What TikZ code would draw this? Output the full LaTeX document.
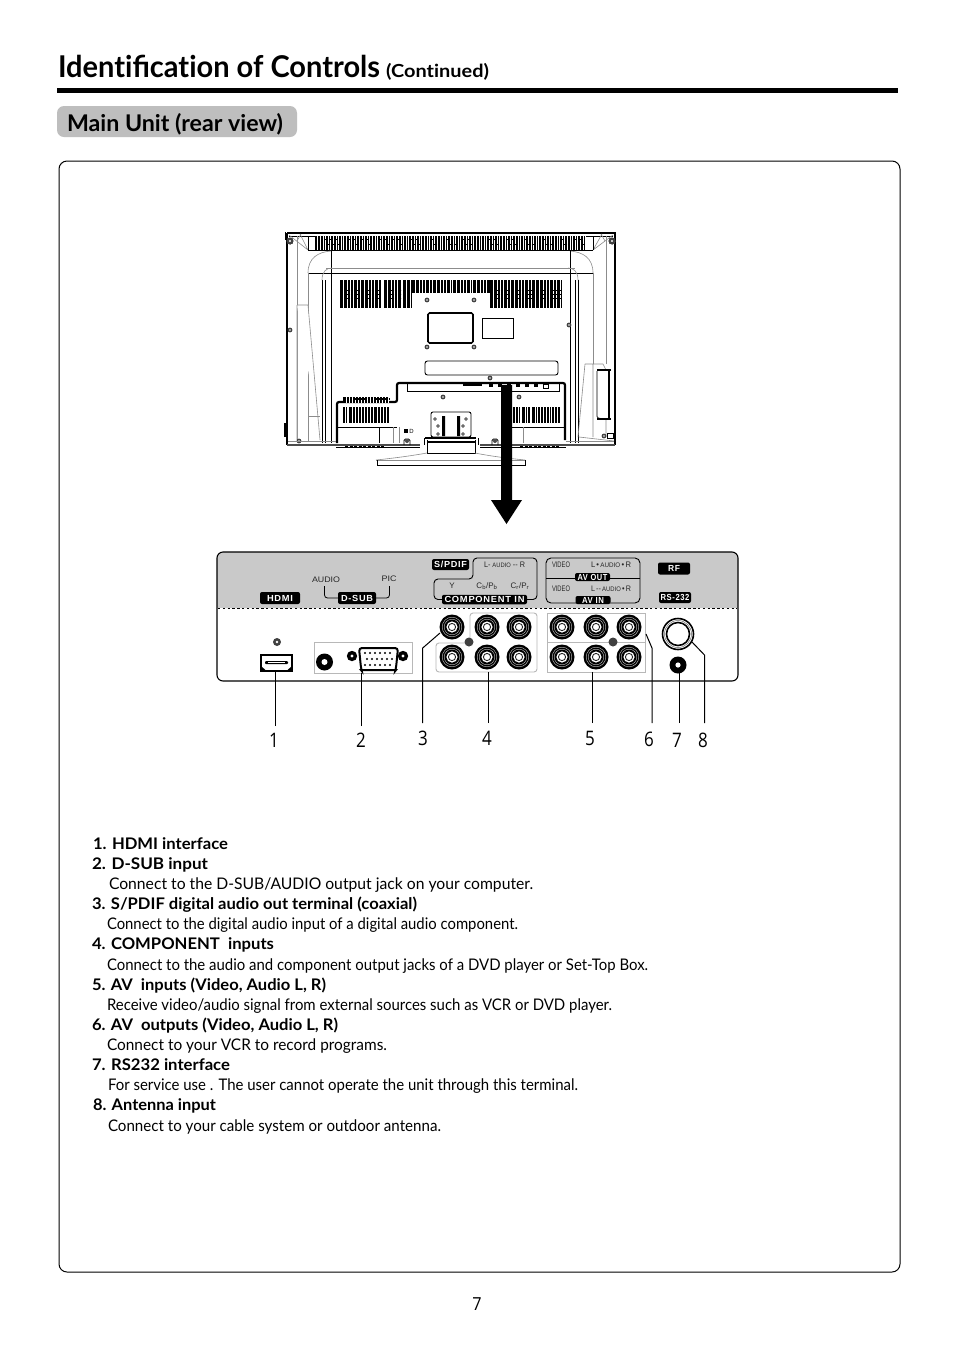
\documentclass[tikz,border=0pt]{standalone}
\usepackage{fontspec}
\usepackage{graphicx}
\setmainfont{Lato}[Ligatures=NoCommon]
\newfontfamily\panelf{Liberation Sans}
\newfontfamily\pillf{Liberation Sans}[LetterSpace=8]
\newfontfamily\numf{Open Sans}
\usetikzlibrary{calc}
\definecolor{panelgray}{HTML}{C9C9C9}
\definecolor{taggray}{HTML}{BEBEBE}
\definecolor{groupgray}{HTML}{B8B8B8}
\newsavebox{\fitbox}
\newcommand{\fitto}[2]{\sbox{\fitbox}{#2}\pgfmathsetmacro{\fitr}{#1/\wd\fitbox}\scalebox{\fitr}[1]{\usebox{\fitbox}}}
\newcommand{\tline}[6]{\node[txt,font=#6] (#1) at (#2,#3) {\fitto{#4}{#5}};}
\newcommand{\jack}[3]{%
  \node[circle,fill=black,minimum size=25,inner sep=0] (#1) at (#2,#3) {};
  \draw[white!75!black,line width=.45] (#2,#3) circle (9.8);
  \draw[white!75!black,line width=.45] (#2,#3) circle (7.8);
  \fill[white] (#2,#3) circle (5.6);
  \draw[black!85,line width=.9] (#2,#3) circle (3.6);}
\newcommand{\screw}[3]{\fill[black!75] (#1,#2) circle (#3); \fill[white] (#1,#2) circle (#3*.35);}
\newcommand{\vent}[5]{% x1 y1 x2 y2 step
  \fill[black] (#1,#2) rectangle (#3,#4);
  \pgfmathsetmacro{\vnext}{#1+#5}
  \pgfmathsetmacro{\vsec}{#1+2*#5}
  \foreach \vx in {\vnext,\vsec,...,#3} \draw[white,line width=.55] (\vx,#2) -- (\vx,#4);}
\newcommand{\ladder}[4]{% x1 x2 ymid count-step : short black bridges across the white lines
  \foreach \ly in {-4,0,4} \draw[black,line width=1,dash pattern=on 2 off 1.2] (#1,#3+\ly) -- (#2,#3+\ly);}
\tikzset{
  txt/.style={anchor=base west,inner sep=0,outer sep=0},
  pill/.style={fill=black,rounded corners=2,text=white,font=\fontsize{8.8}{9}\pillf\bfseries,inner sep=0,align=center},
  plab/.style={inner sep=0,text=black!85,font=\fontsize{8}{8}\panelf},
  num/.style={inner sep=0,font=\fontsize{20}{22}\numf},
  leader/.style={draw=black,line width=1},
  tv/.style={draw=black,line width=.9},
  tvthin/.style={draw=black!45,line width=.6},
  thick tv/.style={draw=black,line width=2.2,rounded corners=2},
}
\begin{document}
\begin{tikzpicture}[x=1pt,y=-1pt]
\useasboundingbox (0,0) rectangle (954,1350);
\fill[white] (0,0) rectangle (954,1350);
% header
\tline{title}{58}{77}{322}{\bfseries Identi{\addfontfeature{Ligatures=Common}fi}cation of Controls}{\fontsize{30}{32}\selectfont}
\tline{cont}{386}{77}{103}{\bfseries (Continued)}{\fontsize{18}{20}\selectfont}
\fill[black] (57,88) rectangle (898,93);
\draw[fill=taggray,draw=none,rounded corners=7] (57,106) rectangle (297,137);
\tline{tag}{67}{131}{216}{\bfseries Main Unit (rear view)}{\fontsize{23}{25}\selectfont}
\draw[black,line width=1,rounded corners=8] (59,161) rectangle (900,1272);
% ---------- TV rear
\draw[tv,line width=1.2] (287,233) -- (615,233) -- (615,445);
\draw[tv,line width=1.6] (287,233) -- (287,445);
\draw[tv] (285,232) -- (285,240);
\draw[tv] (289,236) -- (613,236);
\vent{315}{236}{586}{250}{2.6}
\foreach \hx in {325,331,349,362,380,393,411,431,447,463,489,507,525,543,561,575}
  \draw[black,line width=1,dash pattern=on 2 off 1.6] (\hx,239) -- (\hx+7,239) (\hx+3,244) -- (\hx+10,244);
% upper corners
\draw[tvthin] (289,235) -- (308,250) (300,234) -- (308,250) (297,241) -- (301,234);
\draw[tvthin] (613,235) -- (593,250) (602,234) -- (593,250) (605,241) -- (601,234);
\draw[tv] (308,236) -- (308,250) (593,236) -- (593,250);
\draw[tvthin] (297,236) -- (297,442) (606,236) -- (606,364);
\draw[tv] (308,250) -- (593,250) (308,273) -- (593,273);
\draw[tvthin] (308,273) -- (308,442) (593,273) -- (593,364);
\draw[tvthin] (308,273) .. controls (308,258) and (318,252) .. (331,251);
\draw[tvthin] (593,273) .. controls (593,258) and (583,252) .. (570,251);
\draw[tv] (322,280) -- (322,443) (325,280) -- (325,443) (331.5,250) -- (331.5,443) (570,250) -- (570,443) (575,280) -- (575,443) (578,280) -- (578,443);
\draw[tvthin] (326,268) -- (575,268);
\draw[tvthin] (322,280) .. controls (322,272) and (326,268) .. (332,268);
\draw[tvthin] (578,280) .. controls (578,272) and (574,268) .. (568,268);
\draw[tvthin,fill=white] (297,305) -- (308,305) -- (320,440) (297,305) -- (297,440);
\draw[tvthin] (308,416) -- (320,416);
% right inner trapezoid and black box
\draw[tvthin] (585,364) -- (603,364) (585,364) -- (578,437) (593,364) -- (593,437) (603,364) -- (606,370) (606,420) -- (606,437);
\draw[tvthin] (579,437) -- (614,441);
\draw[black,line width=.7,rounded corners=1.5] (597,371) -- (597,418) -- (606,419);
\draw[black,line width=1.6] (597,370) -- (611,370) (597,419) -- (611,419);
\draw[black,line width=2.4] (609,369) -- (609,420);
\draw[tv] (607,433) rectangle (613,438);
\draw[black,line width=1.4] (285,423) -- (285,437);
% vents
\vent{340}{280}{360}{308}{3.4}
\vent{361}{280}{382}{308}{3.4}
\vent{384}{280}{402}{308}{3.4}
\vent{403}{280}{412}{308}{3.4}
\vent{412}{280}{432}{293}{3.4}
\vent{433}{280}{452}{293}{3.4}
\vent{453}{280}{472}{293}{3.4}
\vent{473}{280}{490}{293}{3.4}
\vent{490}{280}{510}{308}{3.4}
\vent{511}{280}{535}{308}{3.4}
\vent{536}{280}{562}{308}{3.4}
\foreach \lx/\rx in {341/359,362/381,385/401,491/509,512/534,537/561} \ladder{\lx}{\rx}{294}{0};
\foreach \sx/\sy in {427/300,474/300,427/347,474/347,569/325,290/330,490/378,443/397,519/397,299/441,604/436}
  \screw{\sx}{\sy}{2.4}
\screw{290}{241}{3.2}\screw{612}{241}{3.2}
\draw[tv,rounded corners=1.5] (428,313) rectangle (473,343);
\draw[tv] (482,318) rectangle (513,338);
\draw[tv,rounded corners=2.5] (425,361) rectangle (558,375);
% thick stepped line
\draw[thick tv] (337,443) -- (337,402) -- (397,402) -- (397,383) -- (565,383) -- (565,440);
\draw[tv] (407,383) -- (407,391) -- (559,391) -- (559,383);
\foreach \bx in {489,498,507,516,525,534} \fill[black] (\bx,384) rectangle (\bx+4,387);
\fill[black] (463,384) rectangle (482,386);
\draw[tv] (543,384) rectangle (548,388);
\vent{343}{397}{389}{403}{3}
\draw[black,line width=1.2,dash pattern=on 2 off 1.5] (343,399) -- (389,399);
\vent{343}{407}{347}{423}{2}
\vent{349}{407}{373}{423}{3}
\vent{374}{407}{389}{423}{3}
\vent{513}{407}{520}{423}{2.5}
\vent{532}{407}{560}{423}{2.8}
\vent{522}{407}{531}{423}{2.8}
\draw[tv] (338,427) -- (397,427) (512,427) -- (564,427);
\draw[tv] (379,427) -- (379,443);
\draw[tvthin] (393,427) -- (393,443) (399,427) -- (399,443) (523,427) -- (523,443);
\fill[black] (404,429) rectangle (408,433);
\node[inner sep=0,font=\fontsize{6}{6}\panelf] (lockD) at (411.5,431) {D};
\draw[black!70,line width=1.4] (287,445) -- (420,445) (480,445) -- (615,445);
\draw[black,line width=.8] (336,447) -- (420,447) (480,447) -- (566,447);
\draw[black,line width=1,dash pattern=on 3 off 1.5] (345,446.5) -- (385,446.5) (520,446.5) -- (560,446.5);
\draw[tvthin] (288,441) -- (336,441) (566,441) -- (614,441);
% centre plate and stand
\draw[tv,rounded corners=2] (431,412) rectangle (471,437);
\fill[black] (442,416) rectangle (445,436) (457,416) rectangle (460,436);
\foreach \sx/\sy in {435/419,466/419,438/426,463/426,438/434,463/434} \screw{\sx}{\sy}{1.8}
\draw[tv,line width=1.4] (425,438) -- (476,438);
\draw[tv,line width=1.6] (427,442) -- (475,442);
\foreach \sx in {407,495} {\draw[tv,rounded corners=1.5] (\sx-3,445) -- (\sx-3,439) -- (\sx+3,439) -- (\sx+3,445); \fill[black!70] (\sx,441) circle (2);}
\draw[tv] (427,440) -- (427,453) -- (475,453) -- (475,440);
\draw[tv] (424,438) -- (424,445) (478,438) -- (478,445);
\draw[tvthin] (376,460) .. controls (395,458) and (410,456) .. (427,453);
\draw[tvthin] (525,460) .. controls (505,458) and (490,456) .. (475,453);
\draw[tvthin] (376,460) -- (525,460);
\draw[tv] (377,460) -- (377,465) -- (525,465) -- (525,460);
% big arrow
\fill[black] (501,385) -- (512,385) -- (512,500) -- (522,500) -- (506.5,524) -- (491,500) -- (501,500) -- cycle;
% ---------- connector panel
\fill[panelgray,rounded corners=6] (217,608) -- (217,552) -- (738,552) -- (738,608) -- cycle;
\fill[panelgray] (217,600) rectangle (738,608);
\draw[black,line width=1.1,rounded corners=6] (217,552) rectangle (738,681);
\draw[black,line width=.8,dash pattern=on 2.4 off 2.4] (218,608) -- (737,608);
% labels on gray
\node[pill,minimum width=40,minimum height=12] (hdmiL) at (280,598) {\fitto{26}{HDMI}};
\node[pill,minimum width=38,minimum height=12] (dsubL) at (357,598) {\fitto{32}{D-SUB}};
\node[plab] (audioL) at (326,580) {\fitto{28}{AUDIO}};
\node[plab] (picL) at (389,579) {\fitto{15}{PIC}};
\draw[black,line width=.8,rounded corners=3] (324.5,586) -- (324.5,598) -- (dsubL.west);
\draw[black,line width=.8,rounded corners=3] (389.5,586) -- (389.5,598) -- (dsubL.east);
\node[pill,minimum width=37,minimum height=11] (spdifL) at (450.5,564.5) {\fitto{33}{S/PDIF}};
\draw[black,line width=.9,rounded corners=4] (442,599.5) -- (434,599.5) -- (434,579) -- (473,579) -- (473,558) -- (537,558) -- (537,599.5) -- (527,599.5);
\node[pill,minimum width=85,minimum height=9.5] (compL) at (484.5,599.5) {\fitto{80}{COMPONENT IN}};
\node[plab] (laudio) at (504.5,565) {\fitto{41}{L- {\fontsize{6.4}{7}\selectfont AUDIO} -- R}};
\node[plab] (yL) at (452,586) {Y};
\node[plab] (cb) at (487,586) {C$_{\mathrm b}$/P$_{\mathrm b}$};
\node[plab] (cr) at (520,586) {C$_{\mathrm r}$/P$_{\mathrm r}$};
\draw[black,line width=.9,rounded corners=5] (546,558) rectangle (640,603);
\draw[black,line width=.8] (546,578) -- (640,578);
\node[pill,minimum width=35,minimum height=8] (avout) at (592.5,577) {\fitto{30}{AV OUT}};
\node[pill,minimum width=35,minimum height=8] (avin) at (593,600) {\fitto{22}{AV IN}};
\node[plab] (v1) at (561,565) {\fitto{18}{VIDEO}};
\node[plab] (a1) at (611,565) {\fitto{40}{L\,\textbullet\,{\fontsize{6.6}{7}\selectfont AUDIO}\,\textbullet\,R}};
\node[plab] (v2) at (561,589) {\fitto{18}{VIDEO}};
\node[plab] (a2) at (611,589) {\fitto{40}{L\,--\,{\fontsize{6.6}{7}\selectfont AUDIO}\,\textbullet\,R}};
\node[pill,minimum width=32,minimum height=12] (rfL) at (674,568.5) {\fitto{12}{RF}};
\node[pill,minimum width=32,minimum height=11] (rsL) at (675,597.5) {\fitto{29}{RS-232}};
% HDMI connector
\screw{277}{642}{4}
\draw[black,line width=2,fill=white] (261,655) -- (292,655) -- (292,670.5) -- (261,670.5) -- cycle;
\node[inner sep=0,minimum width=23,minimum height=3,fill=black,rounded corners=1] (hdmi) at (276.5,662.5) {};
\fill[white] (268,662) rectangle (285,663);
\fill[black] (261,666) -- (266,670.5) -- (261,670.5) -- cycle (292,666) -- (287,670.5) -- (292,670.5) -- cycle;
% D-SUB group
\node[draw=groupgray,line width=.9,minimum width=98,minimum height=31,inner sep=0] (dsubBox) at (363,657.5) {};
\fill[black] (324.5,662) circle (8.5); \fill[white] (324.5,662) circle (3);
\draw[black,line width=2,rounded corners=3,fill=white] (359,648) -- (398,648) -- (396,668) .. controls (395.5,670) and (395,670) .. (393,670) -- (364,670) .. controls (362,670) and (361.5,670) .. (361,668) -- cycle;
\foreach \dy/\dxs in {653/{365,370,375,380,385,390},659/{367,372,377,382,387,392},665/{365,370,375,380,385,390}}
  \foreach \dx in \dxs \fill[black] (\dx,\dy) circle (1.15);
\foreach \sx in {352,403} {\fill[black] (\sx,656) circle (5.2); \fill[white] (\sx,656) circle (1.6);}
% jack groups
\draw[groupgray,line width=.9,rounded corners=3] (470,613) -- (537,613) -- (537,672) -- (436,672) -- (436,643) -- (470,643) -- cycle;
\draw[groupgray,line width=.9] (547,613) rectangle (645,672);
\draw[groupgray,line width=.9] (547,642) -- (645,642);
\jack{j3}{452}{627}\jack{j4a}{487}{627}\jack{j4b}{519}{627}
\jack{j4c}{452}{657}\jack{j4d}{487}{657}\jack{j4e}{519}{657}
\jack{j6a}{562}{627}\jack{j6b}{596}{627}\jack{j6c}{629}{627}
\jack{j5a}{562}{657}\jack{j5b}{596}{657}\jack{j5c}{629}{657}
\fill[black!75] (469,642) circle (4.5); \fill[black!75] (613,642) circle (4.5);
% RF and RS-232 jacks
\node[circle,draw=black,line width=1.6,minimum size=31,inner sep=0] (rf) at (678,634) {};
\draw[black!60,line width=.5] (678,634) circle (13.5);
\draw[black,line width=1.6] (678,634) circle (11.5);
\node[circle,fill=black,minimum size=17,inner sep=0] (rs) at (678,665) {};
\fill[white] (678,665) circle (2.6);
% numbers
\node[num] (n1) at (274,740) {\scalebox{.85}[1]{1}};
\node[num] (n2) at (361,740) {\scalebox{.85}[1]{2}};
\node[num] (n3) at (423,738) {\scalebox{.85}[1]{3}};
\node[num] (n4) at (487,738) {\scalebox{.85}[1]{4}};
\node[num] (n5) at (590,738) {\scalebox{.85}[1]{5}};
\node[num] (n6) at (649,739) {\scalebox{.85}[1]{6}};
\node[num] (n7) at (677,740) {\scalebox{.85}[1]{7}};
\node[num] (n8) at (703,740) {\scalebox{.85}[1]{8}};
% leaders
\coordinate (e1) at (275,726); \coordinate (s1) at (275,672);
\coordinate (e2) at (361.5,726); \coordinate (s2) at (361.5,673);
\coordinate (e3) at (422.7,723); \coordinate (b3) at (422.7,648); \coordinate (s3) at (440,633);
\coordinate (e4) at (488,723); \coordinate (s4) at (488,672);
\coordinate (e5) at (592,723); \coordinate (s5) at (592,672);
\coordinate (e6) at (652,723); \coordinate (b6) at (652,648); \coordinate (s6) at (646,634);
\coordinate (e7) at (679,723); \coordinate (s7) at (679,672);
\coordinate (e8) at (704.5,723); \coordinate (b8) at (704.5,655); \coordinate (s8) at (692,642);
\draw[leader] (e1) -- (s1);
\draw[leader] (e2) -- (s2);
\draw[leader] (e3) -- (b3) -- (s3);
\draw[leader] (e4) -- (s4);
\draw[leader] (e5) -- (s5);
\draw[leader] (e6) -- (b6) -- (s6);
\draw[leader] (e7) -- (s7);
\draw[leader] (e8) -- (b8) -- (s8);
% text
\def\bodyf{\fontsize{16}{18}\selectfont}
\tline{t1}{93}{849}{135}{\bfseries 1. HDMI interface}{\bodyf}
\tline{t2}{92}{869}{116}{\bfseries 2. D-SUB input}{\bodyf}
\tline{t3}{109}{889}{424}{Connect to the D-SUB/AUDIO output jack on your computer.}{\bodyf}
\tline{t4}{92}{909}{325}{\bfseries 3. S/PDIF digital audio out terminal (coaxial)}{\bodyf}
\tline{t5}{107}{929}{411}{Connect to the digital audio input of a digital audio component.}{\bodyf}
\tline{t6}{92}{949}{182}{\bfseries 4. COMPONENT\ \ inputs}{\bodyf}
\tline{t7}{107}{970}{541}{Connect to the audio and component output jacks of a DVD player or Set-Top Box.}{\bodyf}
\tline{t8}{92}{990}{234}{\bfseries 5. AV\ \ inputs (Video, Audio L, R)}{\bodyf}
\tline{t9}{107}{1010}{505}{Receive video/audio signal from external sources such as VCR or DVD player.}{\bodyf}
\tline{t10}{92}{1030}{246}{\bfseries 6. AV\ \ outputs (Video, Audio L, R)}{\bodyf}
\tline{t11}{107}{1050}{280}{Connect to your VCR to record programs.}{\bodyf}
\tline{t12}{92}{1070}{138}{\bfseries 7. RS232 interface}{\bodyf}
\tline{t13}{108}{1090}{470}{For service use . The user cannot operate the unit through this terminal.}{\bodyf}
\tline{t14}{93}{1110}{123}{\bfseries 8. Antenna input}{\bodyf}
\tline{t15}{108}{1131}{333}{Connect to your cable system or outdoor antenna.}{\bodyf}
\node[inner sep=0,font=\fontsize{18}{20}\numf] (page) at (477,1304) {\scalebox{.9}[1]{7}};
\end{tikzpicture}
\end{document}
